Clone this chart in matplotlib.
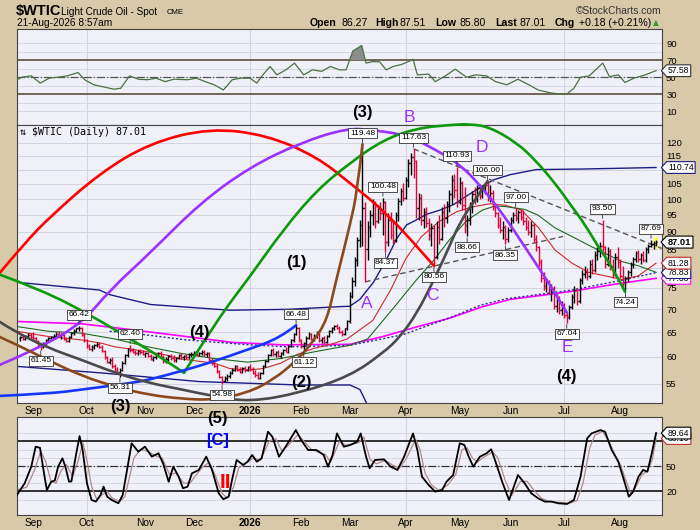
import numpy as np
import pandas as pd
import matplotlib
matplotlib.use("Agg")
import matplotlib.pyplot as plt
from matplotlib.path import Path
from matplotlib.patches import PathPatch, Rectangle
from matplotlib import font_manager
from matplotlib.transforms import blended_transform_factory
from matplotlib.ticker import NullLocator

# ------------------------------------------------------------------ data
holidays = ["2025-09-01", "2025-11-27", "2025-12-25", "2026-01-01", "2026-01-19",
            "2026-02-16", "2026-04-03", "2026-05-25", "2026-06-19", "2026-07-03"]
dates = pd.bdate_range("2025-08-25", "2026-08-21", freq="C", holidays=holidays)

opens = [
    63.8, 64.0, 63.6, 64.2, 64.5,
    64.0, 63.8, 63.0, 62.3, 62.0, 62.7, 63.3, 63.8, 64.0, 64.3, 64.6, 64.2, 64.5, 63.6, 63.2, 64.0, 64.8, 65.3, 65.8, 66.0, 64.5,
    63.3, 62.2, 61.6, 62.0, 62.4, 62.6, 62.0, 61.2, 59.9, 59.0, 59.5, 58.2, 57.6, 57.2, 57.6, 58.9, 60.3, 61.5, 61.3, 61.0, 60.7, 61.1, 61.0,
    60.6, 60.8, 60.2, 59.7, 59.9, 60.4, 60.8, 60.0, 59.2, 59.6, 60.1, 59.8, 59.4, 59.8, 60.3, 59.9, 60.1, 59.9, 60.5,
    60.6, 60.9, 60.4, 60.8, 61.0, 60.5, 60.7, 59.5, 58.8, 58.3, 57.3, 56.2, 55.6, 56.1, 56.4, 57.0, 57.6, 58.2, 57.6, 57.2, 57.9, 57.5,
    58.0, 57.7, 57.0, 56.6, 56.0, 57.0, 58.3, 59.2, 60.4, 61.3, 60.5, 60.9, 60.2, 60.8, 61.4, 61.0, 62.2, 63.3, 64.6, 66.0,
    63.3, 62.2, 62.7, 63.9, 64.6, 63.6, 64.3, 64.9, 63.3, 63.8, 63.0, 64.2, 65.3, 65.9, 66.3, 66.0, 65.1, 64.6, 65.8,
    67.3, 73.2, 76.8, 82.0, 87.5, 92.0, 97.0, 85.0, 91.5, 95.0, 98.5, 93.0, 97.0, 95.5, 99.0, 87.0, 93.5, 89.0, 87.5, 95.0, 99.5, 102.5,
    100.5, 106.5, 112.5, 114.5, 113.0, 97.0, 100.5, 93.5, 96.0, 92.5, 89.0, 91.0, 83.0, 91.5, 88.0, 96.0, 94.0, 98.5, 101.5, 106.5, 103.0,
    99.0, 105.5, 98.0, 92.0, 93.5, 97.5, 101.5, 100.0, 103.5, 101.0, 103.8, 104.5, 100.5, 102.0, 97.5, 95.5, 92.0, 90.5, 91.5, 88.0,
    90.5, 93.5, 95.0, 94.0, 96.0, 94.5, 93.0, 91.5, 90.0, 92.0, 88.0, 85.5, 81.5, 77.5, 75.5, 76.5, 74.5, 75.0, 70.8, 72.5, 69.8,
    71.0, 68.8, 68.2, 70.5, 72.8, 74.5, 72.0, 77.0, 78.5, 79.0, 78.0, 81.0, 79.5, 83.5, 84.5, 86.0, 85.5, 81.0, 84.5, 80.5, 78.5, 83.0,
    81.5, 78.0, 76.5, 77.5, 79.0, 80.8, 82.5, 84.0, 82.5, 83.5, 82.0, 85.0, 86.0, 86.5, 86.27,
]
highs = [
    64.3, 64.6, 64.4, 64.8, 64.9,
    65.0, 64.0, 63.4, 62.6, 62.9, 63.6, 64.0, 64.3, 64.6, 65.0, 65.2, 64.8, 64.7, 64.0, 64.2, 65.0, 65.6, 66.0, 66.42, 66.1, 64.8,
    63.5, 62.6, 62.3, 62.6, 62.9, 63.0, 62.4, 61.4, 60.2, 59.8, 59.9, 58.6, 58.0, 57.9, 59.2, 60.6, 61.8, 62.40, 61.7, 61.4, 61.3, 61.5, 61.4,
    61.0, 61.0, 60.5, 60.1, 60.6, 61.0, 61.1, 60.4, 59.9, 60.4, 60.5, 60.3, 60.0, 60.6, 60.7, 60.4, 60.6, 60.8, 61.0,
    61.1, 61.2, 61.0, 61.3, 61.4, 61.0, 60.9, 59.8, 59.2, 58.6, 57.6, 56.5, 56.4, 56.7, 57.3, 57.9, 58.4, 58.5, 58.0, 58.1, 58.2, 58.3,
    58.6, 58.0, 57.6, 57.1, 57.2, 58.5, 59.5, 60.6, 61.6, 61.7, 61.2, 61.3, 61.0, 61.6, 62.0, 62.4, 63.5, 64.8, 66.48, 66.2,
    63.6, 63.0, 64.2, 65.0, 64.9, 64.6, 65.2, 65.1, 64.1, 64.3, 64.5, 65.5, 66.2, 66.6, 66.8, 66.4, 65.5, 66.0, 67.6,
    74.0, 77.8, 83.0, 88.5, 93.5, 119.48, 99.0, 93.0, 96.5, 100.0, 99.5, 98.0, 99.0, 100.48, 99.5, 95.5, 96.0, 93.0, 96.0, 100.5, 103.5, 105.5,
    107.5, 114.0, 116.0, 117.63, 113.5, 102.0, 101.5, 97.0, 97.5, 94.0, 92.5, 92.0, 93.0, 95.0, 97.5, 98.5, 99.5, 103.0, 108.0, 108.5, 110.93,
    107.5, 106.0, 104.0, 95.0, 99.0, 102.5, 104.0, 104.5, 105.0, 104.5, 105.2, 106.00, 104.5, 103.0, 98.5, 96.0, 94.5, 93.0, 92.0, 91.5,
    94.5, 96.0, 97.00, 96.5, 96.8, 96.5, 94.5, 93.5, 93.0, 92.5, 89.0, 86.0, 82.5, 79.0, 77.5, 77.0, 76.0, 75.5, 73.5, 73.0, 72.0,
    71.5, 69.5, 71.0, 73.5, 75.5, 75.0, 77.5, 79.5, 80.5, 80.0, 82.0, 82.5, 84.5, 85.5, 87.0, 93.50, 85.8, 85.5, 85.0, 82.5, 84.0, 85.5,
    82.5, 80.5, 78.0, 79.5, 81.5, 83.0, 84.5, 84.8, 84.0, 84.5, 85.5, 86.5, 87.69, 87.3, 87.51,
]
lows = [
    63.2, 63.4, 63.3, 63.9, 63.7,
    63.5, 62.8, 62.0, 61.45, 61.7, 62.4, 63.0, 63.2, 63.6, 63.9, 64.0, 63.6, 63.4, 62.9, 63.0, 63.8, 64.4, 65.0, 65.2, 64.2, 63.0,
    61.8, 61.4, 61.2, 61.6, 61.9, 61.8, 61.0, 59.6, 58.8, 58.6, 57.9, 57.3, 56.8, 56.31, 57.4, 58.6, 60.0, 61.0, 60.7, 60.4, 60.4, 60.6, 60.3,
    60.0, 60.0, 59.4, 59.3, 59.7, 60.1, 59.8, 58.9, 58.8, 59.3, 59.5, 59.1, 59.0, 59.6, 59.6, 59.4, 59.7, 59.7, 60.0,
    60.1, 60.2, 60.1, 60.4, 60.2, 60.0, 59.2, 58.5, 58.0, 57.0, 56.0, 54.98, 55.3, 55.6, 56.1, 56.8, 57.3, 57.3, 56.9, 57.0, 57.2, 57.3,
    57.4, 56.8, 56.3, 55.8, 55.9, 56.8, 58.0, 59.0, 60.1, 60.2, 60.0, 59.9, 59.8, 60.4, 60.9, 60.8, 62.0, 63.0, 64.5, 63.0,
    61.8, 61.12, 62.4, 63.5, 63.3, 63.2, 63.9, 63.0, 62.8, 62.6, 62.8, 64.0, 64.9, 65.5, 65.7, 64.8, 64.2, 64.4, 65.5,
    67.0, 72.5, 75.5, 80.5, 85.5, 86.0, 76.5, 82.0, 88.5, 92.0, 91.0, 92.5, 93.5, 89.0, 84.37, 86.0, 88.0, 86.5, 87.0, 93.0, 98.0, 99.5,
    100.0, 104.0, 108.0, 107.0, 94.0, 93.5, 92.0, 91.0, 91.5, 87.5, 86.0, 80.56, 82.5, 86.5, 87.5, 91.5, 92.5, 96.0, 98.5, 100.5, 97.5,
    98.5, 96.5, 89.5, 88.66, 92.0, 95.5, 98.5, 99.0, 100.0, 100.5, 101.5, 99.5, 99.0, 96.5, 94.5, 91.0, 89.5, 88.0, 86.35, 87.0,
    90.0, 92.5, 93.0, 92.5, 93.5, 92.0, 90.5, 89.0, 88.5, 87.0, 84.5, 80.5, 76.5, 74.5, 74.0, 73.5, 72.0, 70.0, 69.5, 69.0, 68.8,
    68.0, 67.04, 67.8, 70.0, 71.5, 71.0, 71.5, 76.0, 77.5, 77.0, 77.5, 78.5, 79.0, 82.0, 83.0, 84.5, 80.0, 80.5, 79.5, 77.5, 78.0, 80.0,
    77.5, 75.5, 74.24, 76.5, 78.0, 80.0, 81.5, 81.5, 81.0, 81.5, 81.5, 84.0, 85.5, 85.2, 85.80,
]
closes = [
    64.0, 63.6, 64.2, 64.5, 64.0,
    63.8, 63.0, 62.3, 62.0, 62.7, 63.3, 63.8, 64.0, 64.3, 64.6, 64.2, 64.5, 63.6, 63.2, 64.0, 64.8, 65.3, 65.8, 66.0, 64.5, 63.3,
    62.2, 61.6, 62.0, 62.4, 62.6, 62.0, 61.2, 59.9, 59.0, 59.5, 58.2, 57.6, 57.2, 57.6, 58.9, 60.3, 61.5, 61.3, 61.0, 60.7, 61.1, 61.0, 60.6,
    60.8, 60.2, 59.7, 59.9, 60.4, 60.8, 60.0, 59.2, 59.6, 60.1, 59.8, 59.4, 59.8, 60.3, 59.9, 60.1, 59.9, 60.5, 60.6,
    60.9, 60.4, 60.8, 61.0, 60.5, 60.7, 59.5, 58.8, 58.3, 57.3, 56.2, 55.6, 56.1, 56.4, 57.0, 57.6, 58.2, 57.6, 57.2, 57.9, 57.5, 58.0,
    57.7, 57.0, 56.6, 56.0, 57.0, 58.3, 59.2, 60.4, 61.3, 60.5, 60.9, 60.2, 60.8, 61.4, 61.0, 62.2, 63.3, 64.6, 66.0, 63.3,
    62.2, 62.7, 63.9, 64.6, 63.6, 64.3, 64.9, 63.3, 63.8, 63.0, 64.2, 65.3, 65.9, 66.3, 66.0, 65.1, 64.6, 65.8, 67.3,
    73.2, 76.8, 82.0, 87.5, 92.0, 97.0, 85.0, 91.5, 95.0, 98.5, 93.0, 97.0, 95.5, 99.0, 87.0, 93.5, 89.0, 87.5, 95.0, 99.5, 102.5, 100.5,
    106.5, 112.5, 114.5, 113.0, 97.0, 100.5, 93.5, 96.0, 92.5, 89.0, 91.0, 83.0, 91.5, 88.0, 96.0, 94.0, 98.5, 101.5, 106.5, 103.0, 99.0,
    105.5, 98.0, 92.0, 93.5, 97.5, 101.5, 100.0, 103.5, 101.0, 103.8, 104.5, 100.5, 102.0, 97.5, 95.5, 92.0, 90.5, 91.5, 88.0, 90.5,
    93.5, 95.0, 94.0, 96.0, 94.5, 93.0, 91.5, 90.0, 92.0, 88.0, 85.5, 81.5, 77.5, 75.5, 76.5, 74.5, 75.0, 70.8, 72.5, 69.8, 71.0,
    68.8, 68.2, 70.5, 72.8, 74.5, 72.0, 77.0, 78.5, 79.0, 78.0, 81.0, 79.5, 83.5, 84.5, 86.0, 85.5, 81.0, 84.5, 80.5, 78.5, 83.0, 81.5,
    78.0, 76.5, 77.5, 79.0, 80.8, 82.5, 84.0, 82.5, 83.5, 82.0, 85.0, 86.0, 86.5, 86.83, 87.01,
]

# overlay lines: (trading-day index, price)
band_upper = [(-1.3, 76.4), (31, 74.5), (35, 73.4), (51, 71.1), (82, 69.8), (105, 70.0), (125, 70.6),
              (129, 70.7), (133, 72.3), (138.3, 76.4), (143.5, 82.4), (147.4, 88.0), (151.3, 92.0),
              (155.2, 93.5), (159.1, 95.2), (164.4, 96.5), (169.6, 98.2), (174.8, 101.0), (180, 103.8),
              (185.3, 106.4), (191.8, 108.2), (202, 110.0), (220, 110.2), (249, 110.74)]
band_lower = [(-1.3, 58.2), (31.2, 57.0), (70.4, 55.4), (109.5, 54.8), (129.1, 54.8), (133.0, 54.0), (135.8, 51.5), (138, 49.0)]
ma_magenta = [(-1.3, 67.3), (24, 66.8), (44, 65.5), (65, 64.1), (83, 62.9), (103, 62.4), (129, 62.5), (142, 64.1),
              (155, 66.1), (168, 68.0), (181, 70.6), (192, 72.3), (205, 73.3), (216, 74.2), (235.5, 76.2), (249, 77.38)]
ma_dotted = [(35, 65.2), (44, 64.8), (65, 63.4), (90, 62.4), (105, 62.0), (129, 62.3), (150, 64.5), (170, 68.5),
             (180, 70.9), (190, 72.4), (216, 74.5), (235.5, 76.9), (249, 78.83)]
ma_red = [(-1.3, 65.2), (11, 64.1), (24, 63.4), (32, 62.7), (37, 62.0), (44, 61.5), (50, 61.0), (57, 60.4), (63, 59.6),
          (76, 58.8), (82, 57.8), (89, 57.5), (95, 57.8), (102, 58.8), (108, 60.4), (115, 61.7), (121, 62.4), (128, 63.6),
          (138, 67.5), (145, 74.5), (151, 82.5), (157, 88.5), (164, 93.0), (171, 96.0), (177, 97.5), (184, 98.5),
          (190, 98.0), (196.3, 96.5), (203, 91.1), (209.4, 84.8), (216, 81.3), (222.4, 78.9), (229, 78.0),
          (235.5, 77.1), (242, 78.0), (249, 81.28)]
ma_green = [(-1.3, 66.2), (11, 65.2), (24, 64.8), (37, 63.6), (50, 62.0), (63, 60.7), (76, 59.7), (89, 59.0), (102, 59.7),
            (115, 61.0), (129, 62.3), (136, 63.6), (146, 70.2), (155, 76.9), (162, 82.1), (168, 87.6), (175, 93.4),
            (181, 96.5), (186, 97.8), (190, 97.6), (197.6, 96.7), (202.8, 94.9), (209.4, 91.1), (216, 88.6),
            (222.4, 86.2), (229, 83.9), (235.5, 81.7), (242, 80.6), (249, 78.9)]
trend_lines = [[(135, 76.5), (212.5, 88.6)], [(154, 117.63), (251.3, 85.2)]]

# cycle arcs drawn on the chart (index, price)
arc_red = [(-8, 78.8), (1.8, 86.8), (11.6, 94.4), (31.2, 108.8), (50.8, 119.9), (74.3, 125.8), (96.6, 123.0),
           (116.2, 114.6), (129.1, 105.3), (138.2, 99.1), (144.8, 94.1), (151.4, 89.0), (162.0, 80.56)]
arc_purple = [(-8, 58.5), (7.7, 61.8), (24.2, 67.0), (35.1, 74.5), (50.8, 84.0), (70.4, 98.7), (89.9, 110.9),
              (109.5, 119.9), (127.9, 125.8), (138.1, 125.0), (151.4, 123.0), (164.4, 116.4), (172.2, 111.7),
              (180.0, 104.7), (189.8, 94.4), (196.5, 86.8), (202.8, 80.3), (209.4, 73.8), (214.1, 69.2)]
arc_green1 = [(-8, 78.3), (8.5, 74.5), (28.1, 68.5), (43.7, 63.4), (55.5, 59.8), (64.1, 57.0)]
arc_green2 = [(64.1, 57.0), (77.0, 67.6), (89.9, 77.8), (102.9, 90.5), (116.2, 103.0), (129.1, 112.4), (142.1, 121.1),
              (155.4, 125.8), (168.3, 127.1), (176.1, 127.5), (183.9, 126.2), (194.5, 119.9), (201.6, 113.5),
              (209.4, 105.3), (216.1, 97.5), (221.2, 92.0), (226.3, 85.7), (231.8, 80.3), (236.8, 74.1)]
arc_blue = [(-8, 52.9), (11.6, 53.3), (24.2, 54.0), (44.1, 55.2), (50.0, 55.7), (64.5, 57.5), (75.5, 59.1),
            (88.8, 61.4), (101.7, 63.8), (108, 66.48)]
arc_brown = [(-8, 64.0), (-2.1, 62.6), (10.8, 59.4), (24.2, 56.4), (37.1, 54.5), (50.0, 53.1), (63.3, 52.4),
             (75.5, 52.2), (88.8, 53.4), (99.0, 55.7), (108.4, 59.4), (114.6, 63.0), (120.1, 67.6), (123.3, 75.8),
             (125.2, 80.8), (129.1, 92.0), (131.9, 102.3), (134, 119.48)]
arc_grey = [(-8, 67.2), (-2.1, 65.1), (10.8, 61.8), (24.2, 59.4), (37.1, 57.0), (50.0, 55.2), (63.3, 54.0),
            (76.3, 52.8), (89.9, 51.9), (109.5, 53.4), (129.1, 56.4), (142.1, 60.8), (148.7, 64.0), (155.4, 69.2),
            (161.6, 76.5), (167.1, 84.3), (172.2, 92.9), (178.1, 99.7), (183, 106.0)]

# labelled highs / lows: (index, value, kind)
bar_labels = [(8, 61.45, "low"), (23, 66.42, "high"), (39, 56.31, "low"), (43, 62.40, "high"), (79, 54.98, "low"),
              (108, 66.48, "high"), (111, 61.12, "low"), (134, 119.48, "high"), (142, 100.48, "high"),
              (143, 84.37, "low"), (154, 117.63, "high"), (162, 80.56, "low"), (171, 110.93, "high"),
              (175, 88.66, "low"), (183, 106.00, "high"), (190, 86.35, "low"), (194, 97.00, "high"),
              (214, 67.04, "low"), (228, 93.50, "high"), (237, 74.24, "low"), (247, 87.69, "high")]

rsi_pts = [(-1.3, 46.8), (0.7, 50), (4.3, 51.5), (7.8, 43), (11.3, 48.8), (14.8, 50), (18.3, 51.5), (22.6, 55.4),
           (25.3, 46.8), (28.8, 41), (33.2, 38.2), (36.6, 35.9), (39.3, 37), (42.8, 51.5), (46.2, 47.6), (49.7, 47),
           (53.2, 48.8), (56.7, 44.8), (60.2, 47.6), (65.5, 47), (69, 48.8), (72.4, 44.8), (76, 41), (79.5, 35),
           (83, 47), (86.4, 48.8), (90, 48.8), (92.6, 43), (95, 52.7), (97.8, 62.5), (100.5, 52.7), (104, 58.6),
           (107.4, 66.5), (111, 52.7), (114.4, 58.6), (118, 56.8), (121.4, 62.5), (125, 58.6), (127.6, 58.6),
           (130.2, 80.6), (133.7, 87.2), (135.4, 66.5), (138, 68.3), (140.7, 68), (143.3, 58.6), (146, 62.5),
           (149.4, 65), (152, 68.3), (153.8, 71), (155.5, 52.7), (159.9, 53.6), (162.5, 44.8), (166, 50.6),
           (170.3, 59.4), (174.8, 50), (178.3, 52.7), (182.6, 51.5), (186.1, 44.8), (190.5, 41), (194.9, 47.6),
           (199.2, 41), (202.8, 35), (207.1, 31.9), (210.6, 30.3), (214.1, 30.3), (216.8, 37), (219.4, 50),
           (222.8, 51.5), (228.1, 66.5), (230.7, 50.6), (234.2, 52.7), (236.8, 43.8), (240.3, 48.8),
           (244.7, 52.7), (248.2, 56.8), (249, 57.58)]

stoch_k = [(-1.3, 15.8), (1.7, 29.7), (4.3, 49.6), (6, 73.4), (7.7, 72), (9.5, 37.6), (10.4, 21.7), (12.1, 31.6),
           (13.5, 33), (14.8, 49.6), (16.5, 59.5), (17.6, 50), (19.1, 31.6), (20, 32), (21.8, 63.5), (23.2, 86.1),
           (24.4, 69.4), (26.1, 29.7), (27.9, 9.8), (29.6, 7.9), (31.4, 15.8), (32.6, 25.7), (34, 13.8), (35.8, 9.8),
           (38.4, 5.9), (40.1, 15.8), (43.6, 77.4), (46.2, 67.4), (48.8, 73.4), (51.5, 61.5), (54.1, 65.5),
           (55.9, 53.6), (58.1, 31.6), (59.9, 49.6), (62, 37.6), (63.7, 23.8), (65.5, 25.7), (67.2, 41.6),
           (69.9, 45.6), (72.8, 61.5), (75.1, 45.6), (77.7, 17.8), (79.5, 10.7), (81.6, 13.8), (82.9, 33.6),
           (84.7, 57.5), (87.3, 51.6), (89, 55.5), (90.8, 63.5), (92.6, 55.5), (94.5, 59.5), (97, 91.2),
           (98.7, 85.3), (101.3, 61.5), (103.9, 73.4), (107.9, 93.2), (110, 81.3), (112.7, 69.4), (116, 69.4),
           (118.8, 63.5), (120.5, 49.6), (122.3, 63.5), (124, 89.2), (126.7, 73.4), (129.2, 75.4), (131.9, 79.3),
           (133.3, 89.2), (135.4, 61.5), (136.8, 47.6), (138.9, 57.5), (142.4, 58.3), (145, 49.6), (147.7, 45.6),
           (150.3, 61.5), (153.8, 89.2), (155.5, 69.4), (157.3, 37.6), (159.9, 27.7), (162.5, 19.8), (165.2, 21.7),
           (166.9, 31.6), (169.5, 39.6), (172.1, 77.4), (173.9, 75.4), (175.6, 61.5), (177.4, 49.6), (180, 61.5),
           (182.6, 65.5), (184.4, 70.4), (186.1, 55.5), (188.7, 31.6), (191.4, 9.8), (194.9, 39.6), (197.5, 29.7),
           (200.1, 17.8), (202.8, 11.8), (205.4, 7.9), (208, 7.9), (210.6, 5.9), (214.1, 5.1), (216.8, 9.8),
           (219.4, 37.6), (222, 83.3), (223.7, 89.2), (227.2, 93.2), (229, 91.2), (231.6, 69.4), (234.2, 55.5),
           (236, 37.6), (238.3, 13.8), (240, 19.8), (242.1, 37.6), (243.9, 45.6), (245.6, 43.6), (247.3, 65.5),
           (249, 89.64)]
stoch_d = [(-1.3, 22), (2.5, 25), (5.5, 45), (8, 68), (10, 55), (12, 32), (14, 30), (16, 45), (18, 52), (20.5, 38),
           (22.5, 55), (24.5, 78), (26, 58), (28, 25), (30, 10), (32, 16), (34, 20), (36, 12), (39, 8), (41, 14),
           (44.5, 60), (47, 70), (50, 68), (52.5, 63), (55.5, 60), (58.5, 40), (61, 42), (64, 30), (66.5, 30),
           (69, 40), (71, 48), (74, 55), (76.5, 38), (79, 18), (81, 12), (83.5, 25), (85.5, 48), (88, 53),
           (91.5, 60), (94, 57), (97.5, 80), (100, 83), (102.5, 68), (105, 75), (108.8, 88), (111, 80), (114, 70),
           (119.5, 64), (121.5, 55), (125, 80), (127.5, 75), (132.5, 78), (134.5, 85), (137, 58), (139.5, 53),
           (143, 57), (146, 51), (148.5, 48), (151.3, 60), (154.8, 82), (156.5, 70), (158.5, 42), (161, 28),
           (164, 21), (167.5, 28), (170.5, 40), (173, 70), (175, 72), (177, 60), (179, 55), (181, 60), (185, 67),
           (187, 60), (189.7, 35), (192.4, 15), (195.9, 32), (198.5, 32), (201, 22), (204, 12), (207, 8), (211, 7),
           (215, 6), (218, 9), (220.4, 30), (223, 72), (225, 87), (228, 92), (230.5, 80), (233, 63), (235, 52),
           (237.3, 32), (239.3, 16), (241.3, 27), (243.5, 40), (245.5, 44), (247.5, 58), (249, 83.10)]

price_ticks = [55, 60, 65, 70, 75, 85, 90, 95, 100, 105, 115, 120]   # 80 and 110 sit under value tags
rsi_ticks = [10, 30, 50, 70, 90]
stoch_ticks = [20, 50]                                               # 80 sits under value tags

# ------------------------------------------------------------------ style
BG = "#d8caa9"
PANEL = "#f0f0f8"
GRID = "#d4d4de"
RED_BAR = "#e4003a"
NAVY = "#1c1c84"
PURPLE = "#9a33ff"
plt.rcParams["font.family"] = ["Liberation Sans", "DejaVu Sans"]
names = {f.name for f in font_manager.fontManager.ttflist}
NARROW = "Liberation Sans Narrow" if "Liberation Sans Narrow" in names else None


def nf(size):
    if NARROW:
        return dict(family=[NARROW, "DejaVu Sans"], fontsize=size)
    return dict(family=["Liberation Sans", "DejaVu Sans"], fontsize=size * 0.84)


def tag_box(x0, y0, width, height, mutation_size):
    pad = 0.16 * mutation_size
    x0, y0, w, h = x0 - pad, y0 - pad, width + 2 * pad, height + 2 * pad
    tip = 0.45 * h
    return Path([(x0, y0), (x0 + w, y0), (x0 + w, y0 + h), (x0, y0 + h), (x0 - tip, y0 + h / 2), (x0, y0)],
                closed=True)


W, H = 700, 530
fig = plt.figure(figsize=(W / 100, H / 100), dpi=100, facecolor=BG)
X0, X1 = -1.3, 251.3


def frame(top, bottom, left=17, right=662):
    a = fig.add_axes([left / W, 1 - bottom / H, (right - left) / W, (bottom - top) / H])
    a.set_facecolor(PANEL)
    for s in a.spines.values():
        s.set_color("#444444")
        s.set_linewidth(0.8)
    a.set_xlim(X0, X1)
    return a


def ftext(px, py, s, **kw):
    kw.setdefault("va", "center")
    kw.setdefault("ha", "left")
    fig.text(px / W, 1 - py / H, s, **kw)


ax_rsi = frame(29, 125)
ax = frame(125, 403)
ax_st = frame(417, 515)

idx = np.arange(len(closes))
month_idx = [k for k in range(1, len(dates)) if dates[k].month != dates[k - 1].month]
month_lab = ["2026" if dates[k].month == 1 else dates[k].strftime("%b") for k in month_idx]
quarter_idx = [k for k in month_idx if dates[k].month in (1, 4, 7, 10)]

for a in (ax_rsi, ax, ax_st):
    for k in quarter_idx:
        a.axvline(k, color=GRID, lw=0.8, zorder=0)

for a in (ax, ax_st):
    a.set_xticks(month_idx)
    a.set_xticklabels(month_lab)
    a.tick_params(axis="x", length=0, pad=2.5, labelsize=7.3)
    for t in a.get_xticklabels():
        if t.get_text() == "2026":
            t.set_fontweight("bold")
ax_rsi.set_xticks([])

# ------------------------------------------------------------------ RSI panel
ax_rsi.set_ylim(-6.1, 106.5)
for v in range(10, 100, 10):
    ax_rsi.axhline(v, color=GRID, lw=0.6, zorder=0)
ax_rsi.axhline(70, color="#6a5a4c", lw=1.3, zorder=1)
ax_rsi.axhline(30, color="#6a5a4c", lw=1.3, zorder=1)
ax_rsi.axhline(50, color="#555555", lw=0.9, ls="-.", zorder=1)
rx = np.array([p[0] for p in rsi_pts])
rv = np.array([p[1] for p in rsi_pts])
ax_rsi.fill_between(rx, rv, 70, where=rv >= 70, interpolate=True, color="#8c8c8c", zorder=2, lw=0)
ax_rsi.plot(rx, rv, color="#4a7242", lw=0.9, zorder=3)
ax_rsi.yaxis.tick_right()
ax_rsi.set_yticks(rsi_ticks)
ax_rsi.tick_params(axis="y", length=0, pad=3, labelsize=6.8)

# ------------------------------------------------------------------ price panel
ax.set_yscale("log")
ax.set_ylim(51.7, 127.07)
ax.set_yticks(price_ticks)
ax.set_yticklabels([str(t) for t in price_ticks])
ax.yaxis.set_minor_locator(NullLocator())
ax.yaxis.tick_right()
ax.tick_params(axis="y", length=0, pad=3, labelsize=6.8)
for t in range(55, 125, 5):
    ax.axhline(t, color=GRID, lw=0.7, zorder=0)


def pl(pts, **kw):
    ax.plot([p[0] for p in pts], [p[1] for p in pts], **kw)


pl(band_upper, color=NAVY, lw=1.0, zorder=2)
pl(band_lower, color=NAVY, lw=1.0, zorder=2)
pl(ma_magenta, color="#ff00ff", lw=1.2, zorder=2)
pl(ma_dotted, color="#2a2aa0", lw=1.0, ls=(0, (1.5, 1.5)), zorder=2)
pl(ma_red, color="#cc2a2a", lw=0.8, zorder=2)
pl(ma_green, color="#1d6b1d", lw=0.8, zorder=2)
for tl in trend_lines:
    pl(tl, color="#555555", lw=1.0, ls=(0, (4, 2.5)), zorder=2)

# last bar highlight
ax.add_patch(Rectangle((idx[-1] - 0.8, lows[-1] - 0.8), 1.6, highs[-1] - lows[-1] + 1.6,
                       facecolor="#ffff55", edgecolor="none", zorder=2.5))

cl = np.array(closes)
up = np.r_[cl[0] >= opens[0], cl[1:] >= cl[:-1]]
cols = np.where(up, "#000000", RED_BAR)
ax.vlines(idx, lows, highs, colors=cols, lw=1.0, zorder=3)
ax.hlines(opens, idx - 0.5, idx, colors=cols, lw=1.0, zorder=3)
ax.hlines(closes, idx, idx + 0.5, colors=cols, lw=1.0, zorder=3)


def curve(points, color, lw=1.9):
    xs = np.array([p[0] for p in points], float)
    ls = np.log(np.array([p[1] for p in points], float))
    n = len(xs)
    verts = [(xs[0], ls[0])]
    codes = [Path.MOVETO]
    for k in range(1, n - 1):
        if k < n - 2:
            end = ((xs[k] + xs[k + 1]) / 2, (ls[k] + ls[k + 1]) / 2)
        else:
            end = (xs[-1], ls[-1])
        verts += [(xs[k], ls[k]), end]
        codes += [Path.CURVE3, Path.CURVE3]
    v = np.array(verts)
    v[:, 1] = np.exp(v[:, 1])
    ax.add_patch(PathPatch(Path(v, codes), facecolor="none", edgecolor=color, lw=lw,
                           clip_on=False, zorder=4, capstyle="round"))


curve(arc_red, "#ff0000")
curve(arc_purple, PURPLE)
curve(arc_green1, "#0a9a0a")
curve(arc_green2, "#0a9a0a")
curve(arc_blue, "#1536ff")
curve(arc_brown, "#8b4a1c")
curve(arc_grey, "#4a4a4a")

for k, v, kind in bar_labels:
    dy = 11 if kind == "high" else -11
    ax.annotate(f"{v:.2f}", xy=(k, v), xytext=(0, dy), textcoords="offset pixels",
                ha="center", va="center", zorder=7, annotation_clip=False,
                bbox=dict(boxstyle="square,pad=0.18", fc="white", ec="#333333", lw=0.6),
                arrowprops=dict(arrowstyle="-", color="#333333", lw=0.6, shrinkA=0, shrinkB=1),
                **nf(7.2))


def tag(a, val, ec, bold=False, size=7.4):
    tr = blended_transform_factory(a.transAxes, a.transData)
    a.annotate(f"{val:.2f}", xy=(1, val), xycoords=tr, xytext=(6, 0), textcoords="offset pixels",
               ha="left", va="center", fontweight="bold" if bold else "normal",
               bbox=dict(boxstyle=tag_box, fc="white", ec=ec, lw=0.8),
               annotation_clip=False, zorder=10, **nf(size))


tag(ax, 110.74, NAVY)
tag(ax, 77.38, "#ff00ff")
tag(ax, 78.83, NAVY)
tag(ax, 81.28, "#cc2a2a")
tag(ax, 87.01, "#000000", bold=True, size=8)
tag(ax_rsi, rsi_pts[-1][1], "#333333")

# ------------------------------------------------------------------ stochastic panel
ax_st.set_ylim(-8.1, 108.8)
for v in range(10, 100, 10):
    ax_st.axhline(v, color=GRID, lw=0.6, zorder=0)
ax_st.axhline(80, color="#111111", lw=1.2, zorder=1)
ax_st.axhline(20, color="#111111", lw=1.2, zorder=1)
ax_st.axhline(50, color="#333333", lw=0.9, ls="-.", zorder=1)
ax_st.plot([p[0] for p in stoch_d], [p[1] for p in stoch_d], color="#b08a8a", lw=0.9, zorder=2)
ax_st.plot([p[0] for p in stoch_k], [p[1] for p in stoch_k], color="#000000", lw=1.3, zorder=3)
ax_st.yaxis.tick_right()
ax_st.set_yticks(stoch_ticks)
ax_st.tick_params(axis="y", length=0, pad=3, labelsize=6.8)
tag(ax_st, stoch_d[-1][1], "#cc2a2a")
tag(ax_st, stoch_k[-1][1], "#000000")

# ------------------------------------------------------------------ texts
ftext(16, 11, "$WTIC", fontweight="bold", fontsize=10.5)
ftext(61, 12, "Light Crude Oil - Spot", **nf(8.6))
ftext(167, 13, "CME", **nf(6.6))
ftext(661, 11, "©StockCharts.com", ha="right", fontsize=7.4, color="#333333")
ftext(17, 23, "21-Aug-2026 8:57am", fontsize=7.3)
for s, px, b in [("Open", 310, True), ("86.27", 341, False), ("High", 375, True), ("87.51", 400, False),
                 ("Low", 435, True), ("85.80", 460, False), ("Last", 495, True), ("87.01", 519, False),
                 ("Chg", 555, True), ("+0.18 (+0.21%)", 579, False)]:
    ftext(px, 23, s, fontweight="bold" if b else "normal", fontsize=7.6)
ftext(653, 23, "▲", family="DejaVu Sans", fontsize=5.5, color="#2f9e2f")
ftext(20, 132, "⇅ $WTIC (Daily) 87.01", family=["DejaVu Sans Mono", "DejaVu Sans"], fontsize=7.2, zorder=8)

wave_labels = [("(1)", 296, 262, "black", 12, "bold"), ("(2)", 301, 382, "black", 12, "bold"),
               ("(3)", 362, 112, "black", 12, "bold"), ("(3)", 120, 406, "black", 12, "bold"),
               ("(4)", 199, 333, "black", 12, "bold"), ("(4)", 566, 377, "black", 12, "bold"),
               ("(5)", 217, 418, "black", 12, "bold"), ("[C]", 218, 440, "#0000ff", 12, "bold"),
               ("II", 225, 482, "#ff0000", 15, "bold"),
               ("A", 367, 303, PURPLE, 12.5, "normal"), ("B", 409, 118, PURPLE, 12.5, "normal"),
               ("C", 432, 296, PURPLE, 12.5, "normal"), ("D", 482, 148, PURPLE, 12.5, "normal"),
               ("E", 567, 348, PURPLE, 12.5, "normal")]
for s, px, py, c, fs, w in wave_labels:
    ftext(px, py, s, ha="center", color=c, fontsize=fs, fontweight=w, zorder=9)

fig.savefig("out.png", dpi=100, facecolor=BG)
